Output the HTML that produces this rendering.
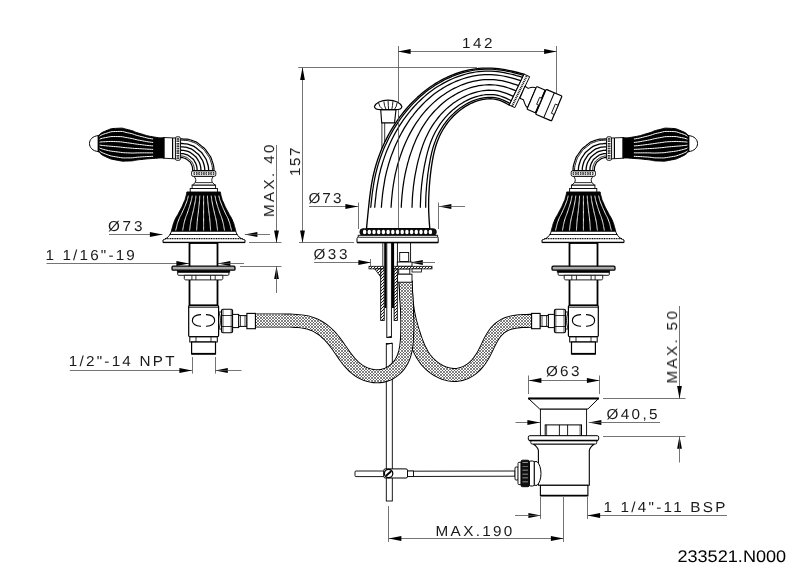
<!DOCTYPE html>
<html><head><meta charset="utf-8"><title>233521.N000</title>
<style>
html,body{margin:0;padding:0;background:#fff;}
svg{display:block;font-family:"Liberation Sans",sans-serif;text-rendering:geometricPrecision;}
text{will-change:transform;}
</style></head><body>
<svg width="789" height="566" viewBox="0 0 789 566">
<defs>
<pattern id="mesh" width="3" height="3" patternUnits="userSpaceOnUse">
<rect width="3" height="3" fill="#fff"/>
<path d="M0,0 L3,3 M3,0 L0,3 M-0.5,2.5 L0.5,3.5 M2.5,-0.5 L3.5,0.5" stroke="#4a4a4a" stroke-width="0.7"/>
</pattern>
<pattern id="hatch" width="3" height="3" patternUnits="userSpaceOnUse">
<rect width="3" height="3" fill="#fff"/>
<path d="M-1,1 L1,-1 M0,3 L3,0 M2,4 L4,2" stroke="#000" stroke-width="0.9"/>
</pattern>
</defs>
<rect width="789" height="566" fill="#fff"/>
<line x1="398" y1="51.5" x2="556.7" y2="51.5" stroke="#505050" stroke-width="0.8"/>
<polygon points="398.00,51.50 410.60,49.10 410.60,53.90" fill="#000"/>
<polygon points="556.70,51.50 544.10,49.10 544.10,53.90" fill="#000"/>
<line x1="398.5" y1="46" x2="398.5" y2="229" stroke="#505050" stroke-width="0.8"/>
<line x1="556.5" y1="46" x2="556.5" y2="106" stroke="#505050" stroke-width="0.8"/>
<text x="0" y="0" font-size="14.4" textLength="28.77" lengthAdjust="spacing" transform="translate(461.9 47.6) scale(1.06 1)" fill="#1a1a1a">142</text>
<line x1="298.3" y1="67.5" x2="477" y2="67.5" stroke="#505050" stroke-width="0.8"/>
<line x1="302.5" y1="67.5" x2="302.5" y2="243" stroke="#505050" stroke-width="0.8"/>
<polygon points="302.50,67.30 300.10,79.90 304.90,79.90" fill="#000"/>
<polygon points="302.50,243.00 300.10,230.40 304.90,230.40" fill="#000"/>
<line x1="299" y1="242.5" x2="354" y2="242.5" stroke="#505050" stroke-width="0.8"/>
<text x="0" y="0" font-size="14.4" textLength="26.89" lengthAdjust="spacing" transform="translate(300 176.1) rotate(-90) scale(1.06 1)" fill="#1a1a1a">157</text>
<line x1="276.5" y1="145" x2="276.5" y2="243" stroke="#505050" stroke-width="0.8"/>
<polygon points="276.50,243.00 274.10,230.40 278.90,230.40" fill="#000"/>
<line x1="249" y1="242.5" x2="281.5" y2="242.5" stroke="#505050" stroke-width="0.8"/>
<line x1="240" y1="266.5" x2="281.5" y2="266.5" stroke="#505050" stroke-width="0.8"/>
<polygon points="276.50,266.30 274.10,278.90 278.90,278.90" fill="#000"/>
<line x1="276.5" y1="266.3" x2="276.5" y2="293" stroke="#505050" stroke-width="0.8"/>
<text x="0" y="0" font-size="14.4" textLength="68.40" lengthAdjust="spacing" transform="translate(274 217.1) rotate(-90) scale(1.06 1)" fill="#1a1a1a">MAX. 40</text>
<text x="0" y="0" font-size="14.4" textLength="32.55" lengthAdjust="spacing" transform="translate(107.9 230.6) scale(1.06 1)" fill="#1a1a1a">&#216;73</text>
<line x1="109" y1="234.5" x2="162.5" y2="234.5" stroke="#505050" stroke-width="0.8"/>
<polygon points="162.50,234.50 149.90,232.10 149.90,236.90" fill="#000"/>
<polygon points="244.80,234.50 257.40,232.10 257.40,236.90" fill="#000"/>
<line x1="244.8" y1="234.5" x2="270" y2="234.5" stroke="#505050" stroke-width="0.8"/>
<text x="0" y="0" font-size="14.4" textLength="84.34" lengthAdjust="spacing" transform="translate(45.4 260) scale(1.06 1)" fill="#1a1a1a">1 1/16"-19</text>
<line x1="46.5" y1="263.5" x2="189" y2="263.5" stroke="#505050" stroke-width="0.8"/>
<polygon points="189.00,263.50 176.40,261.10 176.40,265.90" fill="#000"/>
<polygon points="217.80,263.50 230.40,261.10 230.40,265.90" fill="#000"/>
<line x1="217.8" y1="263.5" x2="244" y2="263.5" stroke="#505050" stroke-width="0.8"/>
<text x="0" y="0" font-size="14.4" textLength="99.91" lengthAdjust="spacing" transform="translate(68.7 366) scale(1.06 1)" fill="#1a1a1a">1/2"-14 NPT</text>
<line x1="69.8" y1="370.5" x2="192" y2="370.5" stroke="#505050" stroke-width="0.8"/>
<polygon points="192.00,370.50 179.40,368.10 179.40,372.90" fill="#000"/>
<polygon points="215.20,370.50 227.80,368.10 227.80,372.90" fill="#000"/>
<line x1="215.2" y1="370.5" x2="241.5" y2="370.5" stroke="#505050" stroke-width="0.8"/>
<line x1="192.5" y1="357" x2="192.5" y2="373.6" stroke="#505050" stroke-width="0.8"/>
<line x1="215.5" y1="357" x2="215.5" y2="373.6" stroke="#505050" stroke-width="0.8"/>
<text x="0" y="0" font-size="14.4" textLength="31.13" lengthAdjust="spacing" transform="translate(308.4 202.6) scale(1.06 1)" fill="#1a1a1a">&#216;73</text>
<line x1="309" y1="206.5" x2="358" y2="206.5" stroke="#505050" stroke-width="0.8"/>
<polygon points="358.00,206.50 345.40,204.10 345.40,208.90" fill="#000"/>
<polygon points="438.75,206.50 451.35,204.10 451.35,208.90" fill="#000"/>
<line x1="438.75" y1="206.5" x2="465" y2="206.5" stroke="#505050" stroke-width="0.8"/>
<line x1="358.5" y1="202.5" x2="358.5" y2="229" stroke="#505050" stroke-width="0.8"/>
<line x1="438.5" y1="202.5" x2="438.5" y2="229" stroke="#505050" stroke-width="0.8"/>
<text x="0" y="0" font-size="14.4" textLength="32.08" lengthAdjust="spacing" transform="translate(313.4 258.9) scale(1.06 1)" fill="#1a1a1a">&#216;33</text>
<line x1="314" y1="262.5" x2="371" y2="262.5" stroke="#505050" stroke-width="0.8"/>
<polygon points="371.00,262.50 358.40,260.10 358.40,264.90" fill="#000"/>
<polygon points="410.20,262.50 422.80,260.10 422.80,264.90" fill="#000"/>
<line x1="410.2" y1="262.5" x2="435" y2="262.5" stroke="#505050" stroke-width="0.8"/>
<line x1="370.5" y1="259" x2="370.5" y2="267" stroke="#505050" stroke-width="0.8"/>
<line x1="410.5" y1="259" x2="410.5" y2="267" stroke="#505050" stroke-width="0.8"/>
<text x="0" y="0" font-size="14.4" textLength="31.60" lengthAdjust="spacing" transform="translate(545.9 376.3) scale(1.06 1)" fill="#1a1a1a">&#216;63</text>
<line x1="528.75" y1="380.5" x2="599.5" y2="380.5" stroke="#505050" stroke-width="0.8"/>
<polygon points="528.75,380.50 541.35,378.10 541.35,382.90" fill="#000"/>
<polygon points="599.50,380.50 586.90,378.10 586.90,382.90" fill="#000"/>
<line x1="528.5" y1="375.5" x2="528.5" y2="394" stroke="#505050" stroke-width="0.8"/>
<line x1="599.5" y1="375.5" x2="599.5" y2="394" stroke="#505050" stroke-width="0.8"/>
<text x="0" y="0" font-size="14.4" textLength="48.30" lengthAdjust="spacing" transform="translate(606.4 419.1) scale(1.06 1)" fill="#1a1a1a">&#216;40,5</text>
<line x1="515.5" y1="422.5" x2="540" y2="422.5" stroke="#505050" stroke-width="0.8"/>
<polygon points="540.00,422.50 527.40,420.10 527.40,424.90" fill="#000"/>
<polygon points="588.75,422.50 601.35,420.10 601.35,424.90" fill="#000"/>
<line x1="588.75" y1="422.5" x2="660" y2="422.5" stroke="#505050" stroke-width="0.8"/>
<line x1="679.5" y1="306" x2="679.5" y2="398.7" stroke="#505050" stroke-width="0.8"/>
<polygon points="679.50,398.70 677.10,386.10 681.90,386.10" fill="#000"/>
<line x1="603" y1="398.5" x2="685.5" y2="398.5" stroke="#505050" stroke-width="0.8"/>
<line x1="603" y1="436.5" x2="685.5" y2="436.5" stroke="#505050" stroke-width="0.8"/>
<polygon points="679.50,436.20 677.10,448.80 681.90,448.80" fill="#000"/>
<line x1="679.5" y1="436.2" x2="679.5" y2="462.5" stroke="#505050" stroke-width="0.8"/>
<text x="0" y="0" font-size="14.4" textLength="68.30" lengthAdjust="spacing" transform="translate(677 383.5) rotate(-90) scale(1.06 1)" fill="#1a1a1a">MAX. 50</text>
<text x="0" y="0" font-size="14.4" textLength="115.09" lengthAdjust="spacing" transform="translate(603.4 512) scale(1.06 1)" fill="#1a1a1a">1 1/4"-11 BSP</text>
<line x1="587.5" y1="515.5" x2="727" y2="515.5" stroke="#505050" stroke-width="0.8"/>
<polygon points="587.50,515.50 600.10,513.10 600.10,517.90" fill="#000"/>
<polygon points="541.00,515.50 528.40,513.10 528.40,517.90" fill="#000"/>
<line x1="515" y1="515.5" x2="541" y2="515.5" stroke="#505050" stroke-width="0.8"/>
<line x1="540.5" y1="497" x2="540.5" y2="519" stroke="#505050" stroke-width="0.8"/>
<line x1="587.5" y1="497" x2="587.5" y2="519" stroke="#505050" stroke-width="0.8"/>
<text x="0" y="0" font-size="14.4" textLength="72.36" lengthAdjust="spacing" transform="translate(435.6 536.1) scale(1.06 1)" fill="#1a1a1a">MAX.190</text>
<line x1="388.75" y1="538.5" x2="563.5" y2="538.5" stroke="#505050" stroke-width="0.8"/>
<polygon points="388.75,538.50 401.35,536.10 401.35,540.90" fill="#000"/>
<polygon points="563.50,538.50 550.90,536.10 550.90,540.90" fill="#000"/>
<line x1="388.5" y1="506" x2="388.5" y2="542" stroke="#505050" stroke-width="0.8"/>
<line x1="563.5" y1="497" x2="563.5" y2="542" stroke="#505050" stroke-width="0.8"/>
<text x="677.4" y="561.5" font-size="16.9" textLength="108.8" lengthAdjust="spacingAndGlyphs" fill="#000">233521.N000</text>
<rect x="386.3" y="343.5" width="6" height="157.5" fill="#fff" stroke="#000" stroke-width="0.9"/>
<path d="M386.3,344.5 L392.3,343" stroke="#000" stroke-width="0.9"/>
<defs><path id="hs1" d="M405.5,281.0 405.6,283.4 405.7,285.9 405.8,288.3 405.9,290.8 406.1,293.2 406.2,295.7 406.4,298.1 406.6,300.6 406.9,303.0 407.1,305.4 407.5,307.9 407.8,310.3 408.2,312.7 408.7,315.1 409.2,317.5 409.7,319.9 410.3,322.3 411.0,324.6 411.6,327.0 412.3,329.4 413.0,331.7 413.8,334.0 414.5,336.4 415.3,338.7 416.1,341.0 417.0,343.3 417.9,345.6 418.8,347.8 419.9,350.0 421.0,352.2 422.2,354.4 423.5,356.5 424.9,358.5 426.4,360.4 428.0,362.2 429.7,364.0 431.5,365.6 433.4,367.2 435.4,368.6 437.5,369.9 439.6,371.1 441.8,372.1 444.1,373.1 446.5,373.8 448.8,374.4 451.3,374.8 453.7,374.9 456.1,374.9 458.6,374.6 461.0,374.1 463.3,373.4 465.6,372.5 467.8,371.4 469.9,370.2 471.9,368.8 473.8,367.2 475.5,365.5 477.2,363.7 478.7,361.8 480.2,359.8 481.5,357.8 482.8,355.7 484.0,353.5 485.1,351.3 486.2,349.2 487.3,346.9 488.3,344.7 489.4,342.5 490.5,340.3 491.7,338.2 492.9,336.1 494.3,334.0 495.8,332.1 497.4,330.3 499.2,328.6 501.1,327.1 503.2,325.7 505.3,324.6 507.6,323.6 509.9,322.9 512.3,322.3 514.7,321.8 517.1,321.5 519.6,321.2 522.0,321.1 524.5,320.9 526.9,320.9 529.4,320.8 531.8,320.8" fill="none"/></defs>
<use href="#hs1" stroke="#000" stroke-width="14"/>
<use href="#hs1" stroke="#fff" stroke-width="11.8"/>
<use href="#hs1" stroke="url(#mesh)" stroke-width="11.8"/>
<defs><path id="hs2" d="M255.7,320.5 258.6,320.5 261.4,320.5 264.3,320.5 267.1,320.5 270.0,320.5 272.9,320.5 275.7,320.5 278.6,320.5 281.4,320.5 284.3,320.6 287.2,320.6 290.0,320.6 292.9,320.7 295.7,320.9 298.6,321.1 301.4,321.4 304.3,321.8 307.1,322.3 309.8,323.1 312.5,324.0 315.2,325.1 317.7,326.4 320.2,327.9 322.5,329.5 324.8,331.3 326.9,333.2 329.0,335.1 330.9,337.2 332.8,339.4 334.6,341.6 336.3,343.9 338.0,346.2 339.6,348.6 341.3,350.9 342.9,353.3 344.5,355.6 346.2,357.9 347.9,360.2 349.8,362.4 351.7,364.5 353.7,366.5 355.9,368.4 358.2,370.1 360.6,371.6 363.1,373.0 365.7,374.1 368.5,375.0 371.2,375.7 374.1,376.2 376.9,376.3 379.8,376.2 382.6,375.8 385.3,375.0 388.0,374.0 390.5,372.7 392.9,371.1 395.2,369.3 397.2,367.3 399.1,365.2 400.7,362.8 402.2,360.3 403.4,357.7 404.3,355.1 405.1,352.3 405.7,349.5 406.2,346.7 406.5,343.9 406.8,341.0 407.0,338.2 407.1,335.3 407.2,332.4 407.3,329.6 407.3,326.7 407.3,323.9 407.3,321.0 407.2,318.1 407.1,315.3 407.1,312.4 407.0,309.6 406.8,306.7 406.7,303.8 406.6,301.0 406.4,298.1 406.3,295.3 406.1,292.4 406.0,289.6 405.8,286.7 405.7,283.9 405.5,281.0" fill="none"/></defs>
<use href="#hs2" stroke="#000" stroke-width="14"/>
<use href="#hs2" stroke="#fff" stroke-width="11.8"/>
<use href="#hs2" stroke="url(#mesh)" stroke-width="11.8"/>
<g id="hL">
<rect x="189.50" y="243.00" width="28.00" height="62.30" fill="#fff" stroke="#000" stroke-width="1.8" rx="0"/>
<rect x="177.70" y="272.00" width="51.20" height="3.30" fill="#fff" stroke="#000" stroke-width="0.9" rx="1"/>
<rect x="177.20" y="270.20" width="52.70" height="2.10" fill="#000" stroke="#000" stroke-width="0.5" rx="0"/>
<rect x="172.00" y="266.20" width="63.00" height="4.00" fill="#aaa" stroke="#000" stroke-width="1.3" rx="1.2"/>
<path d="M184.3,275.3 L222.8,275.3 L222.8,278.6 C222.6,279.6 222,279.9 221,279.9 L186,279.9 C185,279.9 184.5,279.6 184.3,278.6 Z" fill="#fff" stroke="#000" stroke-width="0.9" stroke-linejoin="round" />
<line x1="191.9" y1="275.3" x2="191.9" y2="279.9" stroke="#000" stroke-width="0.8"/>
<line x1="195.9" y1="275.3" x2="195.9" y2="279.9" stroke="#000" stroke-width="0.8"/>
<line x1="210.6" y1="275.3" x2="210.6" y2="279.9" stroke="#000" stroke-width="0.8"/>
<line x1="215.2" y1="275.3" x2="215.2" y2="279.9" stroke="#000" stroke-width="0.8"/>
<rect x="188.70" y="305.60" width="29.90" height="30.90" fill="#fff" stroke="#000" stroke-width="1.2" rx="1"/>
<line x1="188.7" y1="307.3" x2="218.6" y2="307.3" stroke="#000" stroke-width="0.8"/>
<path d="M201,314.6 C189.5,314.2 189.5,326.6 201,326.2" fill="none" stroke="#000" stroke-width="1.1" stroke-linejoin="round" />
<path d="M206,314.6 C217.5,314.2 217.5,326.6 206,326.2" fill="none" stroke="#000" stroke-width="1.1" stroke-linejoin="round" />
<rect x="189.80" y="336.90" width="27.50" height="5.10" fill="#fff" stroke="#000" stroke-width="1" rx="0"/>
<line x1="196" y1="336.9" x2="196" y2="342" stroke="#000" stroke-width="0.8"/>
<line x1="211" y1="336.9" x2="211" y2="342" stroke="#000" stroke-width="0.8"/>
<rect x="191.60" y="342.00" width="23.90" height="12.00" fill="#fff" stroke="#000" stroke-width="1.2" rx="0"/>
<line x1="191.6" y1="353.7" x2="215.5" y2="353.7" stroke="#000" stroke-width="1.6"/>
<path d="M218.8,312 C221,317 221,324 218.8,329 L221.5,329 L221.5,312 Z" fill="#fff" stroke="#000" stroke-width="0.9" stroke-linejoin="round" />
<rect x="221.50" y="309.30" width="11.10" height="23.40" fill="#fff" stroke="#000" stroke-width="1.1" rx="1.5"/>
<line x1="221.5" y1="315.5" x2="232.6" y2="315.5" stroke="#000" stroke-width="0.8"/>
<line x1="221.5" y1="326.5" x2="232.6" y2="326.5" stroke="#000" stroke-width="0.8"/>
<line x1="223" y1="309.5" x2="223" y2="332.5" stroke="#000" stroke-width="0.7"/>
<line x1="231.2" y1="309.5" x2="231.2" y2="332.5" stroke="#000" stroke-width="0.7"/>
<rect x="232.60" y="314.40" width="6.10" height="13.20" fill="#fff" stroke="#000" stroke-width="1" rx="0"/>
<rect x="238.70" y="315.60" width="8.20" height="10.80" fill="#fff" stroke="#000" stroke-width="1" rx="0"/>
<line x1="240.5" y1="315.6" x2="240.5" y2="326.4" stroke="#000" stroke-width="0.7"/>
<line x1="245" y1="315.6" x2="245" y2="326.4" stroke="#000" stroke-width="0.7"/>
<rect x="246.90" y="313.40" width="8.50" height="15.30" fill="#fff" stroke="#000" stroke-width="1.1" rx="0"/>
<path d="M171.5,231 C170,236 167,238.5 163,240 L163,242.6 L245,242.6 L245,240 C240,238.5 237,236 235.7,231 Z" fill="#fff" stroke="#000" stroke-width="1" stroke-linejoin="round" />
<line x1="169.6" y1="234.5" x2="237.6" y2="234.5" stroke="#000" stroke-width="0.9"/>
<line x1="165" y1="238.6" x2="243" y2="238.6" stroke="#000" stroke-width="1.4" stroke-dasharray="1.1 0.6"/>
<line x1="163" y1="242.4" x2="245" y2="242.4" stroke="#000" stroke-width="1.4"/>
<path d="M186.80,192.00 L186.72,192.40 L186.67,192.73 L186.62,193.03 L186.59,193.30 L186.55,193.58 L186.51,193.88 L186.46,194.21 L186.38,194.61 L186.27,195.08 L186.13,195.66 L185.94,196.36 L185.70,197.20 L185.48,197.99 L185.32,198.56 L185.23,198.96 L185.16,199.24 L185.11,199.44 L185.06,199.62 L184.99,199.83 L184.87,200.12 L184.69,200.53 L184.43,201.11 L184.08,201.92 L183.60,203.00 L183.11,204.11 L182.72,204.99 L182.41,205.69 L182.14,206.27 L181.90,206.76 L181.67,207.22 L181.43,207.70 L181.15,208.24 L180.81,208.90 L180.38,209.71 L179.85,210.73 L179.20,212.00 L178.55,213.25 L178.04,214.19 L177.63,214.89 L177.31,215.41 L177.06,215.80 L176.84,216.12 L176.63,216.44 L176.41,216.81 L176.15,217.30 L175.83,217.95 L175.42,218.83 L174.90,220.00 L174.38,221.21 L173.97,222.19 L173.65,222.98 L173.41,223.63 L173.24,224.16 L173.10,224.62 L172.99,225.05 L172.89,225.48 L172.77,225.95 L172.63,226.50 L172.45,227.17 L172.20,228.00 L171.95,228.81 L171.77,229.43 L171.65,229.88 L171.57,230.19 L171.53,230.38 L171.51,230.50 L171.52,230.56 L171.53,230.59 L171.55,230.62 L171.55,230.69 L171.54,230.80 L171.50,231.00 L235.70,231.00 L235.66,230.80 L235.65,230.69 L235.65,230.62 L235.67,230.59 L235.68,230.56 L235.69,230.50 L235.67,230.38 L235.63,230.19 L235.55,229.88 L235.43,229.43 L235.25,228.81 L235.00,228.00 L234.75,227.17 L234.57,226.50 L234.43,225.95 L234.31,225.48 L234.21,225.05 L234.10,224.62 L233.96,224.16 L233.79,223.63 L233.55,222.98 L233.23,222.19 L232.82,221.21 L232.30,220.00 L231.78,218.83 L231.37,217.95 L231.05,217.30 L230.79,216.81 L230.57,216.44 L230.36,216.12 L230.14,215.80 L229.89,215.41 L229.57,214.89 L229.16,214.19 L228.65,213.25 L228.00,212.00 L227.35,210.73 L226.82,209.71 L226.39,208.90 L226.05,208.24 L225.77,207.70 L225.53,207.22 L225.30,206.76 L225.06,206.27 L224.79,205.69 L224.48,204.99 L224.09,204.11 L223.60,203.00 L223.12,201.92 L222.77,201.11 L222.51,200.53 L222.33,200.12 L222.21,199.83 L222.14,199.62 L222.09,199.44 L222.04,199.24 L221.97,198.96 L221.88,198.56 L221.72,197.99 L221.50,197.20 L221.26,196.36 L221.07,195.66 L220.93,195.08 L220.82,194.61 L220.74,194.21 L220.69,193.88 L220.65,193.58 L220.61,193.30 L220.58,193.03 L220.53,192.73 L220.48,192.40 L220.40,192.00 Z" fill="#000" stroke="#000" stroke-width="1" stroke-linejoin="round" />
<path d="M188.41,195.66 L188.24,196.36 L188.03,197.20 L187.84,197.99 L187.71,198.56 L187.62,198.96 L187.57,199.24 L187.53,199.44 L187.48,199.62 L187.42,199.83 L187.31,200.12 L187.16,200.53 L186.93,201.11 L186.62,201.92 L186.21,203.00 L185.79,204.11 L185.45,204.99 L185.17,205.69 L184.94,206.27 L184.73,206.76 L184.53,207.22 L184.32,207.70 L184.08,208.24 L183.78,208.90 L183.41,209.71 L182.95,210.73 L182.38,212.00 L181.82,213.25 L181.37,214.19 L181.02,214.89 L180.74,215.41 L180.52,215.80 L180.33,216.12 L180.15,216.44 L179.95,216.81 L179.73,217.30 L179.45,217.95 L179.10,218.83 L178.64,220.00 L178.19,221.21 L177.83,222.19 L177.56,222.98 L177.35,223.63 L177.20,224.16 L177.08,224.62 L176.98,225.05 L176.89,225.48 L176.79,225.95 L176.67,226.50 L176.51,227.17 L176.30,228.00 L176.08,228.81 L175.92,229.43 L175.81,229.88 L175.74,230.19 L175.71,230.38 L175.70,230.50 L175.70,230.56 L175.72,230.59" fill="none" stroke="#fff" stroke-width="0.95" stroke-linejoin="round" />
<path d="M192.20,195.66 L192.08,196.36 L191.93,197.20 L191.78,197.99 L191.68,198.56 L191.62,198.96 L191.58,199.24 L191.54,199.44 L191.51,199.62 L191.46,199.83 L191.39,200.12 L191.27,200.53 L191.10,201.11 L190.87,201.92 L190.56,203.00 L190.24,204.11 L189.98,204.99 L189.78,205.69 L189.60,206.27 L189.45,206.76 L189.30,207.22 L189.14,207.70 L188.96,208.24 L188.73,208.90 L188.46,209.71 L188.11,210.73 L187.69,212.00 L187.26,213.25 L186.93,214.19 L186.66,214.89 L186.46,215.41 L186.29,215.80 L186.15,216.12 L186.01,216.44 L185.87,216.81 L185.70,217.30 L185.49,217.95 L185.22,218.83 L184.88,220.00 L184.54,221.21 L184.28,222.19 L184.07,222.98 L183.91,223.63 L183.80,224.16 L183.71,224.62 L183.64,225.05 L183.57,225.48 L183.49,225.95 L183.40,226.50 L183.28,227.17 L183.12,228.00 L182.96,228.81 L182.84,229.43 L182.76,229.88 L182.71,230.19 L182.68,230.38 L182.67,230.50 L182.68,230.56 L182.69,230.59" fill="none" stroke="#fff" stroke-width="0.95" stroke-linejoin="round" />
<path d="M196.00,195.66 L195.92,196.36 L195.82,197.20 L195.72,197.99 L195.65,198.56 L195.61,198.96 L195.58,199.24 L195.56,199.44 L195.54,199.62 L195.51,199.83 L195.46,200.12 L195.38,200.53 L195.27,201.11 L195.11,201.92 L194.90,203.00 L194.69,204.11 L194.52,204.99 L194.39,205.69 L194.27,206.27 L194.17,206.76 L194.07,207.22 L193.96,207.70 L193.84,208.24 L193.69,208.90 L193.51,209.71 L193.28,210.73 L192.99,212.00 L192.71,213.25 L192.49,214.19 L192.31,214.89 L192.17,215.41 L192.06,215.80 L191.96,216.12 L191.87,216.44 L191.78,216.81 L191.66,217.30 L191.52,217.95 L191.35,218.83 L191.12,220.00 L190.89,221.21 L190.72,222.19 L190.58,222.98 L190.48,223.63 L190.40,224.16 L190.34,224.62 L190.29,225.05 L190.25,225.48 L190.20,225.95 L190.14,226.50 L190.06,227.17 L189.95,228.00 L189.84,228.81 L189.76,229.43 L189.71,229.88 L189.67,230.19 L189.65,230.38 L189.65,230.50 L189.65,230.56 L189.66,230.59" fill="none" stroke="#fff" stroke-width="0.95" stroke-linejoin="round" />
<path d="M199.80,195.66 L199.76,196.36 L199.71,197.20 L199.66,197.99 L199.63,198.56 L199.61,198.96 L199.59,199.24 L199.58,199.44 L199.57,199.62 L199.55,199.83 L199.53,200.12 L199.49,200.53 L199.43,201.11 L199.36,201.92 L199.25,203.00 L199.15,204.11 L199.06,204.99 L198.99,205.69 L198.93,206.27 L198.88,206.76 L198.83,207.22 L198.78,207.70 L198.72,208.24 L198.64,208.90 L198.55,209.71 L198.44,210.73 L198.30,212.00 L198.15,213.25 L198.04,214.19 L197.95,214.89 L197.89,215.41 L197.83,215.80 L197.78,216.12 L197.74,216.44 L197.69,216.81 L197.63,217.30 L197.56,217.95 L197.47,218.83 L197.36,220.00 L197.25,221.21 L197.16,222.19 L197.09,222.98 L197.04,223.63 L197.00,224.16 L196.97,224.62 L196.95,225.05 L196.92,225.48 L196.90,225.95 L196.87,226.50 L196.83,227.17 L196.77,228.00 L196.72,228.81 L196.68,229.43 L196.65,229.88 L196.64,230.19 L196.63,230.38 L196.62,230.50 L196.63,230.56 L196.63,230.59" fill="none" stroke="#fff" stroke-width="0.95" stroke-linejoin="round" />
<path d="M203.60,195.66 L203.60,196.36 L203.60,197.20 L203.60,197.99 L203.60,198.56 L203.60,198.96 L203.60,199.24 L203.60,199.44 L203.60,199.62 L203.60,199.83 L203.60,200.12 L203.60,200.53 L203.60,201.11 L203.60,201.92 L203.60,203.00 L203.60,204.11 L203.60,204.99 L203.60,205.69 L203.60,206.27 L203.60,206.76 L203.60,207.22 L203.60,207.70 L203.60,208.24 L203.60,208.90 L203.60,209.71 L203.60,210.73 L203.60,212.00 L203.60,213.25 L203.60,214.19 L203.60,214.89 L203.60,215.41 L203.60,215.80 L203.60,216.12 L203.60,216.44 L203.60,216.81 L203.60,217.30 L203.60,217.95 L203.60,218.83 L203.60,220.00 L203.60,221.21 L203.60,222.19 L203.60,222.98 L203.60,223.63 L203.60,224.16 L203.60,224.62 L203.60,225.05 L203.60,225.48 L203.60,225.95 L203.60,226.50 L203.60,227.17 L203.60,228.00 L203.60,228.81 L203.60,229.43 L203.60,229.88 L203.60,230.19 L203.60,230.38 L203.60,230.50 L203.60,230.56 L203.60,230.59" fill="none" stroke="#fff" stroke-width="0.95" stroke-linejoin="round" />
<path d="M207.40,195.66 L207.44,196.36 L207.49,197.20 L207.54,197.99 L207.57,198.56 L207.59,198.96 L207.61,199.24 L207.62,199.44 L207.63,199.62 L207.65,199.83 L207.67,200.12 L207.71,200.53 L207.77,201.11 L207.84,201.92 L207.95,203.00 L208.05,204.11 L208.14,204.99 L208.21,205.69 L208.27,206.27 L208.32,206.76 L208.37,207.22 L208.42,207.70 L208.48,208.24 L208.56,208.90 L208.65,209.71 L208.76,210.73 L208.90,212.00 L209.05,213.25 L209.16,214.19 L209.25,214.89 L209.31,215.41 L209.37,215.80 L209.42,216.12 L209.46,216.44 L209.51,216.81 L209.57,217.30 L209.64,217.95 L209.73,218.83 L209.84,220.00 L209.95,221.21 L210.04,222.19 L210.11,222.98 L210.16,223.63 L210.20,224.16 L210.23,224.62 L210.25,225.05 L210.28,225.48 L210.30,225.95 L210.33,226.50 L210.37,227.17 L210.43,228.00 L210.48,228.81 L210.52,229.43 L210.55,229.88 L210.56,230.19 L210.57,230.38 L210.58,230.50 L210.57,230.56 L210.57,230.59" fill="none" stroke="#fff" stroke-width="0.95" stroke-linejoin="round" />
<path d="M211.20,195.66 L211.28,196.36 L211.38,197.20 L211.48,197.99 L211.55,198.56 L211.59,198.96 L211.62,199.24 L211.64,199.44 L211.66,199.62 L211.69,199.83 L211.74,200.12 L211.82,200.53 L211.93,201.11 L212.09,201.92 L212.30,203.00 L212.51,204.11 L212.68,204.99 L212.81,205.69 L212.93,206.27 L213.03,206.76 L213.13,207.22 L213.24,207.70 L213.36,208.24 L213.51,208.90 L213.69,209.71 L213.92,210.73 L214.21,212.00 L214.49,213.25 L214.71,214.19 L214.89,214.89 L215.03,215.41 L215.14,215.80 L215.24,216.12 L215.33,216.44 L215.42,216.81 L215.54,217.30 L215.68,217.95 L215.85,218.83 L216.08,220.00 L216.31,221.21 L216.48,222.19 L216.62,222.98 L216.72,223.63 L216.80,224.16 L216.86,224.62 L216.91,225.05 L216.95,225.48 L217.00,225.95 L217.06,226.50 L217.14,227.17 L217.25,228.00 L217.36,228.81 L217.44,229.43 L217.49,229.88 L217.53,230.19 L217.55,230.38 L217.55,230.50 L217.55,230.56 L217.54,230.59" fill="none" stroke="#fff" stroke-width="0.95" stroke-linejoin="round" />
<path d="M215.00,195.66 L215.12,196.36 L215.27,197.20 L215.42,197.99 L215.52,198.56 L215.58,198.96 L215.62,199.24 L215.66,199.44 L215.69,199.62 L215.74,199.83 L215.81,200.12 L215.93,200.53 L216.10,201.11 L216.33,201.92 L216.64,203.00 L216.96,204.11 L217.22,204.99 L217.42,205.69 L217.60,206.27 L217.75,206.76 L217.90,207.22 L218.06,207.70 L218.24,208.24 L218.47,208.90 L218.74,209.71 L219.09,210.73 L219.51,212.00 L219.94,213.25 L220.27,214.19 L220.54,214.89 L220.74,215.41 L220.91,215.80 L221.05,216.12 L221.19,216.44 L221.33,216.81 L221.50,217.30 L221.71,217.95 L221.98,218.83 L222.32,220.00 L222.66,221.21 L222.92,222.19 L223.13,222.98 L223.29,223.63 L223.40,224.16 L223.49,224.62 L223.56,225.05 L223.63,225.48 L223.71,225.95 L223.80,226.50 L223.92,227.17 L224.08,228.00 L224.24,228.81 L224.36,229.43 L224.44,229.88 L224.49,230.19 L224.52,230.38 L224.53,230.50 L224.52,230.56 L224.51,230.59" fill="none" stroke="#fff" stroke-width="0.95" stroke-linejoin="round" />
<path d="M218.79,195.66 L218.96,196.36 L219.17,197.20 L219.36,197.99 L219.49,198.56 L219.58,198.96 L219.63,199.24 L219.67,199.44 L219.72,199.62 L219.78,199.83 L219.89,200.12 L220.04,200.53 L220.27,201.11 L220.58,201.92 L220.99,203.00 L221.41,204.11 L221.75,204.99 L222.03,205.69 L222.26,206.27 L222.47,206.76 L222.67,207.22 L222.88,207.70 L223.12,208.24 L223.42,208.90 L223.79,209.71 L224.25,210.73 L224.82,212.00 L225.38,213.25 L225.83,214.19 L226.18,214.89 L226.46,215.41 L226.68,215.80 L226.87,216.12 L227.05,216.44 L227.25,216.81 L227.47,217.30 L227.75,217.95 L228.10,218.83 L228.56,220.00 L229.01,221.21 L229.37,222.19 L229.64,222.98 L229.85,223.63 L230.00,224.16 L230.12,224.62 L230.22,225.05 L230.31,225.48 L230.41,225.95 L230.53,226.50 L230.69,227.17 L230.90,228.00 L231.12,228.81 L231.28,229.43 L231.39,229.88 L231.46,230.19 L231.49,230.38 L231.50,230.50 L231.50,230.56 L231.48,230.59" fill="none" stroke="#fff" stroke-width="0.95" stroke-linejoin="round" />
<rect x="190.20" y="188.50" width="27.20" height="3.50" fill="#fff" stroke="#000" stroke-width="0.9" rx="0"/>
<rect x="192.10" y="185.00" width="23.50" height="3.50" fill="#fff" stroke="#000" stroke-width="0.9" rx="0"/>
<path d="M193.9,176.3 C196,178.5 196.3,180.5 195.2,182.5 L192.6,185 L215,185 L212.4,182.5 C211.3,180.5 211.6,178.5 213.4,176.3 Z" fill="#fff" stroke="#000" stroke-width="0.9" stroke-linejoin="round" />
<line x1="195.2" y1="182.6" x2="212.4" y2="182.6" stroke="#000" stroke-width="0.8"/>
<rect x="191.60" y="170.70" width="24.20" height="5.60" fill="#fff" stroke="#000" stroke-width="0.9" rx="1.5"/>
<line x1="193.6" y1="173.5" x2="214.6" y2="173.5" stroke="#000" stroke-width="2.6" stroke-dasharray="1.5 0.9"/>
<line x1="194.2" y1="173.5" x2="214.6" y2="173.5" stroke="#fff" stroke-width="1.0" stroke-dasharray="0.5 1.9"/>
<path d="M214.10,170.70 L213.90,168.93 L213.80,167.15 L213.48,165.39 L213.01,163.67 L212.46,161.98 L211.91,160.28 L211.40,158.57 L210.68,156.94 L209.67,155.47 L208.64,154.02 L207.61,152.56 L206.60,151.09 L205.57,149.63 L204.36,148.33 L202.98,147.20 L201.58,146.10 L200.18,144.98 L198.80,143.85 L197.41,142.73 L195.88,141.83 L194.20,141.25 L192.51,140.65 L190.83,140.05 L189.13,139.52 L187.38,139.19 L185.60,139.17 L183.82,139.05 L182.05,138.82 L180.30,138.80 L180.30,157.60 L181.00,157.53 L181.69,157.46 L182.38,157.59 L183.05,157.79 L183.72,158.01 L184.39,158.21 L185.08,158.39 L185.73,158.64 L186.32,159.02 L186.88,159.45 L187.43,159.89 L187.97,160.34 L188.52,160.77 L189.09,161.19 L189.66,161.60 L190.18,162.07 L190.56,162.66 L190.88,163.29 L191.18,163.92 L191.48,164.56 L191.76,165.20 L192.03,165.86 L192.25,166.52 L192.43,167.20 L192.54,167.90 L192.57,168.60 L192.57,169.30 L192.60,170.00 L192.70,170.70 Z" fill="#fff" stroke="#000" stroke-width="1.2" stroke-linejoin="round" />
<path d="M212.60,170.70 L212.41,169.00 L212.32,167.30 L212.02,165.62 L211.57,163.97 L211.06,162.34 L210.53,160.72 L210.04,159.08 L209.36,157.52 L208.40,156.11 L207.42,154.71 L206.44,153.31 L205.47,151.90 L204.49,150.50 L203.33,149.26 L202.00,148.18 L200.66,147.12 L199.33,146.06 L198.00,144.98 L196.68,143.90 L195.21,143.04 L193.60,142.46 L191.99,141.89 L190.38,141.32 L188.75,140.81 L187.08,140.49 L185.37,140.46 L183.67,140.34 L181.98,140.13 L180.30,140.12" fill="none" stroke="#000" stroke-width="0.9" stroke-linejoin="round" />
<path d="M208.75,170.70 L208.58,169.20 L208.49,167.69 L208.26,166.19 L207.89,164.73 L207.45,163.28 L206.99,161.84 L206.56,160.39 L205.95,159.01 L205.13,157.74 L204.27,156.49 L203.43,155.24 L202.59,153.98 L201.72,152.74 L200.68,151.65 L199.50,150.70 L198.31,149.77 L197.13,148.82 L195.96,147.86 L194.78,146.91 L193.49,146.13 L192.08,145.59 L190.65,145.09 L189.22,144.59 L187.78,144.14 L186.30,143.84 L184.79,143.78 L183.29,143.65 L181.79,143.49 L180.30,143.50" fill="none" stroke="#000" stroke-width="1.3" stroke-linejoin="round" />
<path d="M204.90,170.70 L204.74,169.39 L204.67,168.07 L204.49,166.77 L204.20,165.49 L203.85,164.22 L203.46,162.96 L203.07,161.70 L202.55,160.49 L201.85,159.38 L201.13,158.28 L200.42,157.17 L199.70,156.07 L198.95,154.98 L198.04,154.04 L197.00,153.22 L195.96,152.41 L194.93,151.58 L193.91,150.75 L192.88,149.92 L191.77,149.22 L190.56,148.72 L189.32,148.28 L188.07,147.86 L186.80,147.47 L185.52,147.18 L184.21,147.09 L182.90,146.97 L181.60,146.86 L180.30,146.88" fill="none" stroke="#000" stroke-width="1.3" stroke-linejoin="round" />
<path d="M201.05,170.70 L200.91,169.58 L200.85,168.46 L200.73,167.35 L200.52,166.25 L200.24,165.16 L199.92,164.09 L199.58,163.01 L199.14,161.98 L198.58,161.02 L197.99,160.06 L197.41,159.10 L196.81,158.15 L196.18,157.22 L195.39,156.42 L194.50,155.74 L193.61,155.05 L192.73,154.35 L191.86,153.64 L190.99,152.93 L190.05,152.32 L189.03,151.85 L187.98,151.47 L186.91,151.13 L185.83,150.80 L184.74,150.53 L183.63,150.40 L182.52,150.28 L181.41,150.23 L180.30,150.27" fill="none" stroke="#000" stroke-width="1.3" stroke-linejoin="round" />
<path d="M197.19,170.70 L197.08,169.78 L197.03,168.85 L196.97,167.92 L196.84,167.01 L196.63,166.10 L196.38,165.21 L196.09,164.33 L195.74,163.47 L195.30,162.65 L194.85,161.84 L194.39,161.03 L193.93,160.23 L193.41,159.46 L192.75,158.81 L192.00,158.25 L191.26,157.69 L190.53,157.11 L189.81,156.52 L189.09,155.94 L188.33,155.41 L187.51,154.98 L186.64,154.67 L185.75,154.40 L184.86,154.12 L183.96,153.88 L183.06,153.72 L182.14,153.59 L181.22,153.60 L180.30,153.65" fill="none" stroke="#000" stroke-width="1.3" stroke-linejoin="round" />
<path d="M194.41,170.70 L194.31,169.92 L194.27,169.13 L194.25,168.34 L194.17,167.56 L194.03,166.78 L193.82,166.02 L193.58,165.27 L193.28,164.54 L192.94,163.83 L192.58,163.13 L192.22,162.43 L191.84,161.73 L191.41,161.08 L190.83,160.54 L190.20,160.07 L189.57,159.60 L188.95,159.11 L188.34,158.61 L187.72,158.11 L187.09,157.64 L186.41,157.25 L185.67,156.97 L184.91,156.76 L184.16,156.53 L183.40,156.30 L182.64,156.11 L181.86,155.99 L181.08,156.04 L180.30,156.10" fill="none" stroke="#000" stroke-width="0.9" stroke-linejoin="round" />
<rect x="175.40" y="136.80" width="5.00" height="23.50" fill="#fff" stroke="#000" stroke-width="0.9" rx="1.5"/>
<line x1="177.9" y1="138.2" x2="177.9" y2="159.4" stroke="#000" stroke-width="2.6" stroke-dasharray="1.5 0.9"/>
<line x1="177.9" y1="138.8" x2="177.9" y2="159.4" stroke="#fff" stroke-width="1.0" stroke-dasharray="0.5 1.9"/>
<path d="M163,137.5 L175.4,138 L175.4,158.8 L163,158.2 Z" fill="#fff" stroke="#000" stroke-width="0.9" stroke-linejoin="round" />
<line x1="164.3" y1="137.6" x2="164.3" y2="158.2" stroke="#000" stroke-width="0.8"/>
<line x1="172.6" y1="138" x2="172.6" y2="158.7" stroke="#000" stroke-width="1.2"/>
<path d="M98.4,135.6 C86.5,136.5 86.5,150.5 98.4,151.6 Z" fill="#fff" stroke="#000" stroke-width="1" stroke-linejoin="round" />
<path d="M98.20,135.60 L98.75,135.22 L99.19,134.88 L99.54,134.55 L99.86,134.23 L100.17,133.90 L100.53,133.58 L100.96,133.23 L101.51,132.85 L102.22,132.44 L103.13,131.98 L104.28,131.47 L105.70,130.90 L107.10,130.34 L108.20,129.89 L109.07,129.52 L109.76,129.23 L110.35,129.00 L110.90,128.82 L111.48,128.69 L112.15,128.60 L112.98,128.52 L114.04,128.45 L115.39,128.38 L117.10,128.30 L118.78,128.22 L120.07,128.16 L121.04,128.13 L121.77,128.13 L122.34,128.17 L122.84,128.25 L123.33,128.37 L123.91,128.54 L124.64,128.77 L125.62,129.05 L126.91,129.39 L128.60,129.80 L130.28,130.20 L131.53,130.53 L132.45,130.80 L133.11,131.04 L133.62,131.25 L134.06,131.46 L134.52,131.69 L135.07,131.94 L135.82,132.24 L136.85,132.61 L138.25,133.05 L140.10,133.60 L141.99,134.14 L143.51,134.59 L144.71,134.95 L145.69,135.24 L146.50,135.47 L147.23,135.68 L147.94,135.85 L148.71,136.03 L149.62,136.22 L150.74,136.43 L152.14,136.68 L153.90,137.00 L155.67,137.30 L157.11,137.53 L158.27,137.68 L159.18,137.77 L159.90,137.82 L160.47,137.83 L160.96,137.81 L161.39,137.79 L161.82,137.76 L162.30,137.75 L162.88,137.75 L163.60,137.80 L163.60,157.90 L162.88,157.93 L162.30,157.96 L161.82,157.97 L161.39,157.98 L160.96,157.99 L160.47,158.00 L159.90,158.02 L159.18,158.06 L158.27,158.11 L157.11,158.18 L155.67,158.27 L153.90,158.40 L152.14,158.53 L150.74,158.63 L149.62,158.70 L148.71,158.77 L147.94,158.83 L147.23,158.89 L146.50,158.95 L145.69,159.03 L144.71,159.13 L143.51,159.25 L141.99,159.41 L140.10,159.60 L138.25,159.81 L136.85,159.99 L135.82,160.16 L135.07,160.30 L134.52,160.43 L134.06,160.55 L133.62,160.65 L133.11,160.74 L132.45,160.82 L131.53,160.89 L130.28,160.95 L128.60,161.00 L126.91,161.05 L125.62,161.11 L124.64,161.16 L123.91,161.20 L123.33,161.22 L122.84,161.21 L122.34,161.17 L121.77,161.09 L121.04,160.96 L120.07,160.77 L118.78,160.52 L117.10,160.20 L115.39,159.88 L114.04,159.64 L112.98,159.45 L112.15,159.29 L111.48,159.14 L110.90,158.99 L110.35,158.80 L109.76,158.56 L109.07,158.25 L108.20,157.86 L107.10,157.34 L105.70,156.70 L104.28,156.03 L103.13,155.44 L102.22,154.93 L101.51,154.48 L100.96,154.08 L100.53,153.71 L100.17,153.37 L99.86,153.04 L99.54,152.71 L99.19,152.37 L98.75,152.00 L98.20,151.60 Z" fill="#000" stroke="#000" stroke-width="1" stroke-linejoin="round" />
<path d="M99.57,136.33 L100.85,135.37 L102.33,134.63 L103.92,134.04 L105.54,133.51 L107.17,133.00 L108.79,132.46 L110.41,131.94 L112.13,131.65 L113.87,131.57 L115.63,131.52 L117.38,131.47 L119.13,131.43 L120.89,131.40 L122.64,131.52 L124.34,131.95 L126.03,132.37 L127.74,132.75 L129.46,133.12 L131.17,133.50 L132.85,133.95 L134.47,134.57 L136.10,135.13 L137.78,135.61 L139.46,136.05 L141.16,136.47 L142.85,136.89 L144.54,137.32 L146.24,137.76 L147.94,138.15 L149.66,138.47 L151.39,138.75 L153.12,139.02" fill="none" stroke="#fff" stroke-width="1.0" stroke-linejoin="round" />
<path d="M99.57,139.24 L100.84,138.67 L102.31,138.24 L103.89,137.90 L105.50,137.60 L107.12,137.31 L108.73,136.99 L110.35,136.69 L112.05,136.55 L113.80,136.54 L115.54,136.55 L117.29,136.57 L119.03,136.59 L120.78,136.63 L122.52,136.78 L124.23,137.15 L125.93,137.48 L127.65,137.78 L129.37,138.07 L131.08,138.37 L132.78,138.73 L134.41,139.18 L136.05,139.58 L137.74,139.93 L139.43,140.25 L141.13,140.56 L142.83,140.88 L144.53,141.20 L146.23,141.53 L147.94,141.83 L149.67,142.07 L151.40,142.27 L153.13,142.47" fill="none" stroke="#fff" stroke-width="1.0" stroke-linejoin="round" />
<path d="M99.56,142.15 L100.83,141.97 L102.29,141.85 L103.85,141.76 L105.46,141.69 L107.07,141.62 L108.67,141.53 L110.29,141.45 L111.98,141.45 L113.72,141.51 L115.45,141.59 L117.19,141.67 L118.93,141.76 L120.67,141.86 L122.41,142.04 L124.12,142.35 L125.83,142.59 L127.55,142.81 L129.27,143.03 L131.00,143.25 L132.70,143.50 L134.35,143.80 L136.01,144.03 L137.70,144.24 L139.40,144.45 L141.11,144.66 L142.82,144.87 L144.52,145.08 L146.23,145.30 L147.94,145.50 L149.67,145.66 L151.40,145.80 L153.14,145.93" fill="none" stroke="#fff" stroke-width="1.0" stroke-linejoin="round" />
<path d="M99.55,145.07 L100.81,145.27 L102.27,145.45 L103.82,145.62 L105.41,145.78 L107.02,145.93 L108.62,146.07 L110.22,146.20 L111.91,146.34 L113.64,146.48 L115.37,146.62 L117.10,146.77 L118.83,146.92 L120.56,147.09 L122.29,147.31 L124.01,147.55 L125.73,147.70 L127.46,147.84 L129.18,147.98 L130.91,148.13 L132.62,148.28 L134.29,148.41 L135.96,148.48 L137.66,148.56 L139.37,148.66 L141.09,148.75 L142.80,148.86 L144.51,148.96 L146.23,149.07 L147.95,149.18 L149.68,149.26 L151.41,149.32 L153.15,149.38" fill="none" stroke="#fff" stroke-width="1.0" stroke-linejoin="round" />
<path d="M99.55,147.98 L100.80,148.57 L102.24,149.06 L103.79,149.48 L105.37,149.87 L106.97,150.24 L108.56,150.61 L110.16,150.96 L111.84,151.24 L113.56,151.45 L115.28,151.66 L117.01,151.87 L118.73,152.09 L120.45,152.31 L122.18,152.57 L123.90,152.75 L125.63,152.81 L127.36,152.87 L129.09,152.94 L130.82,153.00 L132.55,153.06 L134.23,153.03 L135.91,152.93 L137.62,152.88 L139.34,152.86 L141.06,152.85 L142.78,152.85 L144.50,152.84 L146.22,152.85 L147.95,152.85 L149.68,152.86 L151.42,152.85 L153.15,152.84" fill="none" stroke="#fff" stroke-width="1.0" stroke-linejoin="round" />
<path d="M99.54,150.89 L100.79,151.87 L102.22,152.67 L103.76,153.34 L105.33,153.96 L106.92,154.55 L108.50,155.14 L110.10,155.71 L111.76,156.14 L113.48,156.42 L115.20,156.69 L116.91,156.97 L118.63,157.25 L120.34,157.54 L122.06,157.83 L123.79,157.96 L125.53,157.92 L127.26,157.90 L129.00,157.89 L130.74,157.88 L132.47,157.83 L134.18,157.65 L135.87,157.37 L137.59,157.20 L139.31,157.06 L141.04,156.95 L142.77,156.83 L144.49,156.72 L146.22,156.62 L147.95,156.53 L149.69,156.45 L151.43,156.37 L153.16,156.29" fill="none" stroke="#fff" stroke-width="1.0" stroke-linejoin="round" />
</g>
<use href="#hL" transform="translate(787,0) scale(-1,1)"/>
<rect x="397.40" y="242.60" width="13.20" height="23.70" fill="#fff" stroke="#000" stroke-width="0.9" rx="0"/>
<rect x="399.70" y="252.50" width="9.00" height="9.00" fill="#fff" stroke="#000" stroke-width="0.9" rx="0"/>
<rect x="397.30" y="262.00" width="14.70" height="4.30" fill="#fff" stroke="#000" stroke-width="0.9" rx="0"/>
<rect x="398.70" y="268.90" width="11.10" height="5.30" fill="#fff" stroke="#000" stroke-width="0.9" rx="0"/>
<rect x="397.60" y="274.20" width="14.40" height="8.00" fill="#fff" stroke="#000" stroke-width="0.9" rx="0"/>
<rect x="369.00" y="266.30" width="63.00" height="2.60" fill="url(#hatch)" stroke="#000" stroke-width="0.8" rx="0"/>
<rect x="412.00" y="268.90" width="9.50" height="3.10" fill="#fff" stroke="#000" stroke-width="0.8" rx="0"/>
<line x1="382.8" y1="242.6" x2="382.8" y2="266.3" stroke="#000" stroke-width="0.8"/>
<rect x="380.70" y="268.90" width="3.50" height="51.50" fill="url(#hatch)" stroke="#000" stroke-width="0.9" rx="0"/>
<rect x="394.10" y="268.90" width="3.20" height="51.50" fill="url(#hatch)" stroke="#000" stroke-width="0.9" rx="0"/>
<path d="M374.8,268.9 L380.7,268.9 L380.7,277 Z" fill="url(#hatch)" stroke="#000" stroke-width="0.8" stroke-linejoin="round" />
<rect x="384.20" y="242.60" width="9.90" height="65.40" fill="#fff" stroke="#000" stroke-width="0" rx="0"/>
<line x1="385.35" y1="242.6" x2="385.35" y2="308" stroke="#000" stroke-width="2.3"/>
<line x1="392.85" y1="242.6" x2="392.85" y2="308" stroke="#000" stroke-width="2.5"/>
<rect x="386.80" y="242.60" width="4.60" height="94.90" fill="#fff" stroke="#000" stroke-width="0.9" rx="0"/>
<path d="M386.8,337.5 L391.4,336.3" fill="none" stroke="#000" stroke-width="0.9" stroke-linejoin="round" />
<path d="M381.9,123 L381.9,150 M384.7,123 L384.7,146" fill="none" stroke="#000" stroke-width="0.8" stroke-linejoin="round" />
<path d="M380.7,109.6 L396,109.6 L394.5,122.9 L381.7,122.9 Z" fill="#fff" stroke="#000" stroke-width="1.1" stroke-linejoin="round" />
<path d="M374.4,106.6 C375.5,102.8 381,100.1 388.1,100.1 C395.3,100.1 400.8,102.8 401.9,106.6 C401.5,108.6 399,109.7 396,109.7 L380.7,109.7 C377.5,109.7 374.8,108.6 374.4,106.6 Z" fill="#fff" stroke="#000" stroke-width="1.2" stroke-linejoin="round" />
<path d="M382.8,109.3 Q379.2,106.7 378.6,103.0" fill="none" stroke="#000" stroke-width="0.9" stroke-linejoin="round" />
<path d="M386,109.3 Q384.2,105.9 383.9,101.6" fill="none" stroke="#000" stroke-width="0.9" stroke-linejoin="round" />
<path d="M388.6,109.3 Q388.2,105.5 388.1,100.8" fill="none" stroke="#000" stroke-width="0.9" stroke-linejoin="round" />
<path d="M391.8,109.3 Q392.7,105.8 392.9,101.3" fill="none" stroke="#000" stroke-width="0.9" stroke-linejoin="round" />
<path d="M394.5,109.3 Q396.7,106.5 397.1,102.8" fill="none" stroke="#000" stroke-width="0.9" stroke-linejoin="round" />
<path d="M366.50,228.60 L366.82,225.33 L367.13,222.06 L367.45,218.78 L367.77,215.51 L368.10,212.24 L368.43,208.97 L368.77,205.70 L369.12,202.43 L369.49,199.17 L369.88,195.90 L370.30,192.64 L370.76,189.39 L371.25,186.14 L371.80,182.90 L372.40,179.67 L373.07,176.45 L373.79,173.24 L374.58,170.05 L375.44,166.88 L376.37,163.73 L377.37,160.59 L378.44,157.49 L379.57,154.40 L380.77,151.34 L382.02,148.30 L383.35,145.29 L384.73,142.31 L386.17,139.35 L387.67,136.43 L389.22,133.53 L390.84,130.67 L392.52,127.85 L394.26,125.06 L396.06,122.31 L397.93,119.60 L399.86,116.94 L401.84,114.32 L403.89,111.75 L406.00,109.23 L408.16,106.75 L410.38,104.33 L412.65,101.95 L414.98,99.63 L417.36,97.37 L419.80,95.17 L422.30,93.03 L424.85,90.96 L427.46,88.96 L430.13,87.04 L432.85,85.20 L435.63,83.44 L438.46,81.76 L441.33,80.17 L444.25,78.66 L447.21,77.24 L450.22,75.90 L453.26,74.66 L456.34,73.50 L459.45,72.45 L462.60,71.50 L465.77,70.66 L468.98,69.92 L472.21,69.31 L475.46,68.81 L478.72,68.44 L482.00,68.20 L485.28,68.07 L488.57,68.06 L491.86,68.17 L495.14,68.40 L498.41,68.73 L501.66,69.16 L504.91,69.68 L508.14,70.29 L511.35,70.98 L514.55,71.72 L517.74,72.52 L520.92,73.35 L524.10,74.20 L509.30,105.10 L507.31,103.98 L505.30,102.90 L503.25,101.89 L501.16,100.98 L499.01,100.21 L496.81,99.59 L494.57,99.15 L492.31,98.87 L490.03,98.77 L487.74,98.83 L485.47,99.04 L483.21,99.39 L480.98,99.85 L478.77,100.44 L476.60,101.12 L474.45,101.91 L472.35,102.79 L470.28,103.76 L468.25,104.81 L466.27,105.94 L464.33,107.15 L462.44,108.43 L460.60,109.78 L458.80,111.19 L457.06,112.67 L455.37,114.20 L453.73,115.79 L452.14,117.43 L450.61,119.12 L449.13,120.86 L447.71,122.65 L446.35,124.48 L445.05,126.36 L443.80,128.27 L442.63,130.23 L441.51,132.22 L440.46,134.25 L439.47,136.31 L438.55,138.40 L437.70,140.51 L436.91,142.66 L436.18,144.82 L435.51,147.00 L434.89,149.20 L434.32,151.41 L433.80,153.63 L433.32,155.87 L432.88,158.11 L432.47,160.35 L432.09,162.60 L431.73,164.86 L431.40,167.12 L431.09,169.38 L430.80,171.64 L430.53,173.91 L430.27,176.18 L430.04,178.45 L429.82,180.73 L429.62,183.00 L429.44,185.28 L429.27,187.55 L429.12,189.83 L428.99,192.11 L428.87,194.39 L428.78,196.67 L428.71,198.95 L428.66,201.24 L428.63,203.52 L428.63,205.80 L428.65,208.09 L428.70,210.37 L428.77,212.65 L428.87,214.93 L428.98,217.21 L429.12,219.49 L429.27,221.77 L429.44,224.05 L429.62,226.32 L429.80,228.60 Z" fill="#fff" stroke="#000" stroke-width="1.35" stroke-linejoin="round" />
<clipPath id="flc"><rect x="0" y="0" width="789" height="207.7"/></clipPath><g clip-path="url(#flc)">
<path d="M370.2,212.4 370.5,209.2 370.9,205.9 371.2,202.7 371.6,199.5 371.9,196.3 372.3,193.0 372.8,189.8 373.3,186.6 373.8,183.4 374.4,180.2 375.0,177.0 375.7,173.8 376.5,170.7 377.3,167.5 378.2,164.4 379.2,161.3 380.2,158.2 381.3,155.2 382.5,152.1 383.7,149.1 385.0,146.1 386.4,143.2 387.8,140.2 389.2,137.3 390.7,134.5 392.3,131.6 393.9,128.8 395.6,126.1 397.4,123.3 399.2,120.6 401.1,118.0 403.0,115.4 405.0,112.8 407.1,110.3 409.2,107.9 411.4,105.4 413.6,103.1 415.9,100.8 418.2,98.5 420.6,96.3 423.1,94.2 425.6,92.1 428.2,90.1 430.8,88.2 433.5,86.4 436.2,84.6 439.0,83.0 441.8,81.4 444.7,79.8 447.6,78.4 450.6,77.1 453.6,75.8 456.6,74.7 459.7,73.6 462.8,72.7 465.9,71.8 469.1,71.1 472.3,70.5 475.5,69.9 478.7,69.6 482.0,69.3 485.2,69.2 488.5,69.1 491.7,69.2 495.0,69.5 498.2,69.8 501.4,70.2 504.6,70.7 507.8,71.3 511.0,72.0 514.2,72.8 517.3,73.6 520.4,74.4 523.6,75.3" fill="none" stroke="#000" stroke-width="1.25" stroke-linejoin="round" />
<path d="M374.2,212.7 374.5,209.6 374.8,206.4 375.1,203.2 375.4,200.1 375.8,196.9 376.1,193.7 376.5,190.6 377.0,187.4 377.5,184.3 378.1,181.1 378.7,178.0 379.3,174.9 380.1,171.8 380.8,168.7 381.7,165.7 382.6,162.6 383.6,159.6 384.6,156.6 385.7,153.6 386.9,150.6 388.1,147.7 389.4,144.8 390.7,141.9 392.1,139.0 393.5,136.2 395.0,133.4 396.6,130.6 398.2,127.9 399.9,125.2 401.6,122.6 403.4,119.9 405.3,117.4 407.2,114.8 409.2,112.4 411.2,109.9 413.3,107.5 415.4,105.2 417.6,102.9 419.9,100.7 422.2,98.5 424.6,96.4 427.0,94.3 429.5,92.3 432.0,90.4 434.6,88.6 437.3,86.8 440.0,85.2 442.7,83.6 445.5,82.1 448.4,80.6 451.3,79.3 454.2,78.0 457.1,76.9 460.1,75.8 463.2,74.8 466.2,74.0 469.3,73.2 472.4,72.6 475.6,72.0 478.7,71.6 481.9,71.4 485.1,71.2 488.3,71.2 491.4,71.2 494.6,71.4 497.8,71.7 501.0,72.2 504.1,72.7 507.2,73.3 510.3,74.0 513.4,74.7 516.5,75.6 519.6,76.4 522.6,77.3" fill="none" stroke="#000" stroke-width="1.25" stroke-linejoin="round" />
<path d="M381.1,210.2 381.4,207.2 381.6,204.1 381.9,201.0 382.2,198.0 382.5,194.9 382.9,191.9 383.3,188.8 383.8,185.8 384.3,182.8 384.8,179.7 385.4,176.7 386.1,173.7 386.8,170.7 387.6,167.8 388.4,164.8 389.3,161.9 390.2,159.0 391.2,156.1 392.3,153.2 393.4,150.4 394.5,147.5 395.7,144.7 397.0,141.9 398.3,139.2 399.7,136.4 401.1,133.7 402.6,131.1 404.1,128.4 405.7,125.8 407.3,123.3 409.1,120.7 410.8,118.2 412.7,115.8 414.5,113.4 416.5,111.0 418.5,108.7 420.6,106.5 422.7,104.3 424.8,102.1 427.1,100.0 429.4,98.0 431.7,96.0 434.1,94.1 436.6,92.3 439.1,90.6 441.7,88.9 444.3,87.3 446.9,85.8 449.6,84.4 452.4,83.0 455.2,81.7 458.0,80.6 460.9,79.5 463.8,78.5 466.7,77.6 469.7,76.8 472.7,76.2 475.7,75.6 478.7,75.2 481.8,74.8 484.8,74.6 487.9,74.6 491.0,74.6 494.1,74.8 497.1,75.1 500.2,75.5 503.2,76.0 506.2,76.6 509.2,77.3 512.2,78.1 515.1,78.9 518.1,79.8 521.0,80.7" fill="none" stroke="#000" stroke-width="1.25" stroke-linejoin="round" />
<path d="M390.8,211.2 391.0,208.3 391.2,205.4 391.4,202.5 391.6,199.6 391.9,196.7 392.2,193.8 392.5,190.9 392.9,188.0 393.3,185.1 393.8,182.2 394.3,179.4 394.8,176.5 395.4,173.7 396.1,170.9 396.8,168.0 397.5,165.2 398.3,162.5 399.2,159.7 400.1,156.9 401.0,154.2 402.0,151.5 403.0,148.8 404.1,146.1 405.2,143.5 406.4,140.8 407.6,138.2 408.9,135.6 410.2,133.1 411.6,130.6 413.0,128.1 414.5,125.6 416.1,123.2 417.7,120.8 419.4,118.5 421.1,116.2 422.9,113.9 424.8,111.7 426.7,109.5 428.7,107.4 430.7,105.4 432.8,103.4 435.0,101.4 437.2,99.6 439.4,97.8 441.7,96.0 444.1,94.4 446.5,92.8 449.0,91.2 451.5,89.8 454.1,88.4 456.7,87.2 459.3,86.0 462.0,84.8 464.7,83.8 467.4,82.9 470.2,82.1 473.0,81.4 475.9,80.8 478.7,80.3 481.6,79.9 484.5,79.7 487.4,79.5 490.3,79.5 493.2,79.6 496.1,79.9 499.0,80.3 501.9,80.7 504.8,81.4 507.6,82.1 510.4,82.9 513.1,83.8 515.9,84.7 518.6,85.6" fill="none" stroke="#000" stroke-width="1.25" stroke-linejoin="round" />
<path d="M401.1,212.2 401.2,209.5 401.3,206.7 401.4,204.0 401.6,201.2 401.8,198.5 402.0,195.8 402.3,193.1 402.6,190.3 402.9,187.6 403.3,184.9 403.7,182.2 404.1,179.5 404.6,176.8 405.1,174.1 405.7,171.5 406.3,168.8 407.0,166.2 407.6,163.5 408.4,160.9 409.1,158.3 409.9,155.7 410.8,153.1 411.7,150.6 412.6,148.0 413.5,145.5 414.6,143.0 415.6,140.5 416.7,138.0 417.9,135.6 419.1,133.2 420.4,130.8 421.7,128.4 423.1,126.1 424.6,123.8 426.1,121.6 427.7,119.4 429.3,117.2 431.0,115.1 432.8,113.0 434.6,111.0 436.5,109.1 438.4,107.2 440.4,105.3 442.4,103.5 444.5,101.8 446.7,100.1 448.9,98.5 451.2,97.0 453.5,95.6 455.8,94.2 458.2,92.9 460.7,91.7 463.1,90.5 465.7,89.5 468.2,88.5 470.8,87.7 473.4,86.9 476.1,86.3 478.7,85.7 481.4,85.3 484.2,85.0 486.9,84.8 489.6,84.7 492.4,84.8 495.1,85.0 497.8,85.4 500.5,85.8 503.2,86.4 505.8,87.2 508.5,88.0 511.0,88.9 513.6,89.9 516.1,90.9" fill="none" stroke="#000" stroke-width="1.25" stroke-linejoin="round" />
<path d="M412.0,210.7 412.0,208.1 412.1,205.6 412.2,203.0 412.3,200.5 412.4,197.9 412.6,195.4 412.8,192.8 413.1,190.3 413.3,187.7 413.6,185.2 414.0,182.7 414.3,180.1 414.7,177.6 415.1,175.1 415.6,172.6 416.1,170.1 416.6,167.6 417.1,165.1 417.7,162.6 418.3,160.2 419.0,157.7 419.6,155.3 420.4,152.8 421.1,150.4 421.9,148.0 422.7,145.6 423.6,143.3 424.5,140.9 425.5,138.6 426.6,136.3 427.7,134.0 428.8,131.8 430.0,129.5 431.3,127.4 432.7,125.2 434.1,123.1 435.6,121.0 437.1,119.0 438.7,117.0 440.3,115.1 442.0,113.2 443.8,111.4 445.6,109.6 447.5,107.9 449.5,106.3 451.4,104.7 453.5,103.1 455.6,101.7 457.7,100.3 459.9,99.0 462.1,97.7 464.4,96.6 466.7,95.5 469.0,94.5 471.4,93.6 473.8,92.8 476.3,92.1 478.8,91.5 481.3,91.0 483.8,90.6 486.3,90.4 488.9,90.2 491.5,90.3 494.0,90.4 496.6,90.7 499.1,91.2 501.6,91.8 504.0,92.6 506.4,93.4 508.8,94.4 511.1,95.4 513.4,96.4" fill="none" stroke="#000" stroke-width="1.25" stroke-linejoin="round" />
<path d="M420.4,211.7 420.4,209.3 420.4,206.8 420.4,204.4 420.5,202.0 420.6,199.6 420.7,197.2 420.8,194.7 421.0,192.3 421.2,189.9 421.4,187.5 421.6,185.1 421.9,182.7 422.2,180.3 422.5,177.9 422.8,175.5 423.2,173.1 423.6,170.8 424.0,168.4 424.4,166.0 424.9,163.6 425.4,161.3 425.9,158.9 426.4,156.6 427.0,154.3 427.6,151.9 428.3,149.6 429.0,147.3 429.7,145.1 430.5,142.8 431.4,140.5 432.3,138.3 433.3,136.1 434.3,134.0 435.4,131.8 436.6,129.7 437.8,127.7 439.1,125.6 440.4,123.6 441.9,121.7 443.3,119.8 444.9,117.9 446.5,116.1 448.1,114.4 449.8,112.7 451.6,111.0 453.4,109.4 455.3,107.9 457.2,106.4 459.1,105.0 461.2,103.7 463.2,102.4 465.3,101.3 467.5,100.1 469.6,99.1 471.9,98.2 474.1,97.3 476.4,96.6 478.8,96.0 481.1,95.4 483.5,95.0 485.9,94.7 488.3,94.5 490.7,94.5 493.2,94.7 495.6,94.9 497.9,95.4 500.3,96.0 502.6,96.8 504.8,97.7 507.0,98.6 509.2,99.7 511.4,100.8" fill="none" stroke="#000" stroke-width="1.25" stroke-linejoin="round" />
<path d="M425.8,212.3 425.7,210.0 425.7,207.6 425.7,205.3 425.7,203.0 425.8,200.6 425.8,198.3 425.9,196.0 426.0,193.7 426.2,191.3 426.4,189.0 426.5,186.7 426.7,184.4 427.0,182.0 427.2,179.7 427.5,177.4 427.7,175.1 428.0,172.8 428.4,170.5 428.7,168.2 429.1,165.9 429.5,163.6 429.9,161.3 430.3,159.0 430.8,156.7 431.3,154.5 431.8,152.2 432.4,150.0 433.0,147.7 433.7,145.5 434.5,143.3 435.3,141.1 436.1,138.9 437.0,136.8 438.0,134.7 439.1,132.6 440.2,130.6 441.4,128.6 442.6,126.6 443.9,124.7 445.3,122.8 446.7,121.0 448.2,119.2 449.7,117.4 451.3,115.7 453.0,114.1 454.7,112.5 456.4,111.0 458.2,109.5 460.1,108.1 462.0,106.7 463.9,105.5 465.9,104.3 468.0,103.1 470.1,102.1 472.2,101.1 474.3,100.3 476.5,99.5 478.8,98.8 481.0,98.3 483.3,97.8 485.6,97.5 488.0,97.3 490.3,97.3 492.6,97.4 494.9,97.6 497.2,98.1 499.5,98.7 501.7,99.5 503.8,100.4 505.9,101.4 508.0,102.4 510.0,103.6" fill="none" stroke="#000" stroke-width="1.25" stroke-linejoin="round" />
</g>
<line x1="398.5" y1="115" x2="398.5" y2="229" stroke="#505050" stroke-width="0.8"/>
<rect x="359.90" y="228.70" width="76.40" height="6.60" fill="#111" stroke="#000" stroke-width="0.8" rx="3"/>
<g transform="translate(0,232) scale(1,1.3)"><line x1="364.6" y1="0" x2="433" y2="0" stroke="#fff" stroke-width="3.5" stroke-dasharray="0 4.7" stroke-linecap="round"/></g>
<path d="M357,242.6 L357,238.6 C357.2,237.6 357.6,237.2 358.2,236.9 L358.2,235.3 L437.6,235.3 L437.6,236.9 C438,237.2 438.2,237.6 438.2,238.6 L438.2,242.6 Z" fill="#fff" stroke="#000" stroke-width="1" stroke-linejoin="round" />
<line x1="358.2" y1="237.3" x2="437.6" y2="237.3" stroke="#000" stroke-width="0.8"/>
<line x1="357" y1="242.5" x2="438.2" y2="242.5" stroke="#000" stroke-width="1.3"/>
<path d="M509.3,105.1 L524.1,74.2 L529.7,76.7 L514.8,107.6 Z" fill="#fff" stroke="#000" stroke-width="1" stroke-linejoin="round" />
<line x1="512.1" y1="106.2" x2="526.9" y2="75.5" stroke="#000" stroke-width="2" stroke-dasharray="0.9 0.9"/>
<g transform="translate(548.8,105.1) rotate(23)">
<path d="M-29.3,-8 L-25.5,-7.3 C-22,-11 -20,-10.8 -18.5,-10.8 L-18.5,10.8 C-20,10.8 -22,9 -25.5,5 L-29.3,5 Z" fill="#fff" stroke="#000" stroke-width="1" stroke-linejoin="round" />
<rect x="-18.50" y="-12.30" width="9.20" height="24.60" fill="#fff" stroke="#000" stroke-width="1.1" rx="0.8"/>
<rect x="-8.65" y="-13.50" width="17.30" height="27.00" fill="#fff" stroke="#000" stroke-width="1.2" rx="0.8"/>
<line x1="-9" y1="-12.5" x2="-9" y2="12.5" stroke="#000" stroke-width="1.2"/>
<line x1="0.3" y1="-13.5" x2="0.3" y2="13.5" stroke="#000" stroke-width="1.0"/>
<rect x="-11.50" y="-3.50" width="2.50" height="7.50" fill="#fff" stroke="#000" stroke-width="0.8" rx="0"/>
<rect x="5.60" y="-3.50" width="3.05" height="10.00" fill="#fff" stroke="#000" stroke-width="0.8" rx="0"/>
</g>
<path d="M407.5,471.2 L515,471 L515,476.2 L407.5,476.5 Z" fill="#fff" stroke="#000" stroke-width="0.9" stroke-linejoin="round" />
<rect x="355.00" y="471.00" width="29.00" height="5.60" fill="#fff" stroke="#000" stroke-width="0.9" rx="1"/>
<rect x="383.75" y="468.90" width="23.75" height="9.10" fill="#fff" stroke="#000" stroke-width="1" rx="1.5"/>
<rect x="407.50" y="471.00" width="6.00" height="5.60" fill="#fff" stroke="#000" stroke-width="0.9" rx="0"/>
<circle cx="388.6" cy="473.5" r="4.2" fill="#fff" stroke="#000" stroke-width="1.2"/>
<path d="M385.8,476 L391.4,471" fill="none" stroke="#000" stroke-width="1.8" stroke-linejoin="round" />
<path d="M533.5,444 C536,446 538,447.5 538.4,450.5 L538.4,485.3 L589.3,485.3 L589.3,450.5 C589.7,447.5 591.7,446 594.2,444 Z" fill="#fff" stroke="#000" stroke-width="1.1" stroke-linejoin="round" />
<rect x="540.40" y="485.30" width="47.50" height="10.50" fill="#fff" stroke="#000" stroke-width="1.1" rx="0"/>
<line x1="540.4" y1="495.6" x2="587.9" y2="495.6" stroke="#000" stroke-width="1.5"/>
<path d="M534.2,461.6 L537,461.6 C542.3,466 542.3,481 537,485.3 L534.2,485.3 Z" fill="#fff" stroke="#000" stroke-width="1" stroke-linejoin="round" />
<rect x="515.00" y="467.00" width="3.30" height="13.00" fill="#fff" stroke="#000" stroke-width="0.9" rx="1"/>
<rect x="518.00" y="462.30" width="3.30" height="22.30" fill="#fff" stroke="#000" stroke-width="0.9" rx="1"/>
<rect x="529.30" y="461.00" width="4.90" height="25.00" fill="#fff" stroke="#000" stroke-width="1" rx="1.5"/>
<rect x="521.00" y="460.20" width="8.30" height="26.50" fill="#111" stroke="#000" stroke-width="0.9" rx="1.5"/>
<line x1="525.2" y1="462" x2="525.2" y2="485.5" stroke="#bbb" stroke-width="5.5" stroke-dasharray="0.7 3.2"/>
<rect x="540.40" y="409.00" width="46.20" height="27.00" fill="#fff" stroke="#000" stroke-width="0.9" rx="0"/>
<rect x="545.20" y="424.90" width="36.30" height="11.10" fill="#fff" stroke="#000" stroke-width="1" rx="0"/>
<line x1="546.6" y1="424.9" x2="546.6" y2="436" stroke="#000" stroke-width="0.7"/>
<line x1="580.1" y1="424.9" x2="580.1" y2="436" stroke="#000" stroke-width="0.7"/>
<line x1="559.4" y1="424.9" x2="559.4" y2="436" stroke="#000" stroke-width="0.9"/>
<line x1="567.6" y1="424.9" x2="567.6" y2="436" stroke="#000" stroke-width="0.9"/>
<rect x="530.80" y="440.50" width="65.90" height="3.50" fill="#fff" stroke="#000" stroke-width="0.9" rx="1.2"/>
<rect x="528.30" y="435.70" width="70.40" height="4.90" fill="#fff" stroke="#000" stroke-width="1" rx="1.5"/>
<line x1="529" y1="440.4" x2="598" y2="440.4" stroke="#000" stroke-width="1.5"/>
<path d="M528.3,398.4 L598.7,398.4 L587.9,409 L539.7,409 Z" fill="#fff" stroke="#000" stroke-width="1" stroke-linejoin="round" />
<line x1="528.1" y1="398.5" x2="598.9" y2="398.5" stroke="#000" stroke-width="1.8"/>
</svg>
</body></html>
